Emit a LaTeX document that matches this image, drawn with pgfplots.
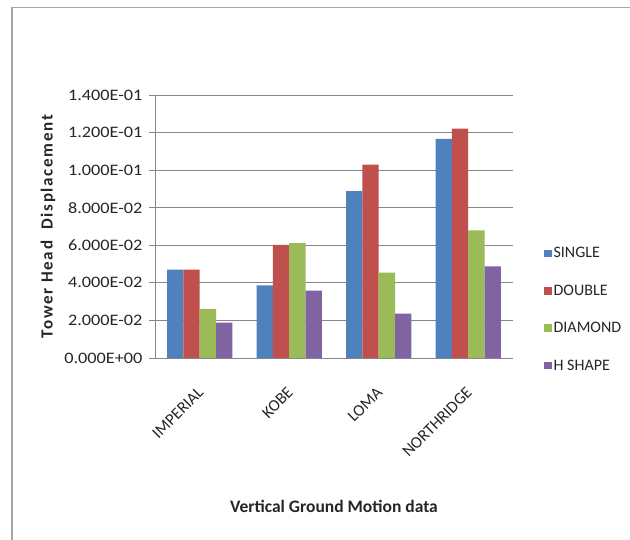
\documentclass[border=0pt]{standalone}
\usepackage{fontspec}
\setmainfont{Carlito}
\newfontfamily\tickfont[FakeStretch=1.14]{Carlito}
\usepackage{pgfplots}
\pgfplotsset{compat=1.18}
\definecolor{cSingle}{HTML}{4F81BD}
\definecolor{cDouble}{HTML}{C0504D}
\definecolor{cDiamond}{HTML}{9BBB59}
\definecolor{cH}{HTML}{8064A2}
\definecolor{gridgray}{HTML}{878787}
\definecolor{framegray}{HTML}{A6A6A6}
\definecolor{txt}{HTML}{262626}
\pgfplotsset{sqleg/.style={legend image code/.code={\fill[##1] (0pt,-3.8pt) rectangle (7.5pt,3.8pt);}}}
\begin{document}
\begin{tikzpicture}
\useasboundingbox (0,0) rectangle (630pt,539pt);
\fill[white] (0,0) rectangle (630pt,539pt);
\draw[framegray, line width=1.3pt] (12pt,-2pt) -- (12pt,531.5pt) -- (632pt,531.5pt);
\begin{axis}[
  at={(155pt,181pt)}, anchor=south west,
  width=358pt, height=263pt, scale only axis,
  ybar=0pt, bar width=16.3pt,
  xmin=-0.5, xmax=3.5, ymin=0, ymax=0.14,
  xtick={0,1,2,3},
  xticklabels={IMPERIAL,KOBE,LOMA,NORTHRIDGE},
  ytick={0,0.02,0.04,0.06,0.08,0.1,0.12,0.14},
  yticklabels={0.000E+00,2.000E-02,4.000E-02,6.000E-02,8.000E-02,1.000E-01,1.200E-01,1.400E-01},
  axis x line*=bottom, axis y line*=left,
  axis line style={gridgray, line width=0.8pt},
  ymajorgrids, grid style={gridgray, line width=0.8pt},
  major y tick style={gridgray, line width=0.8pt},
  major x tick style={draw=none},
  tick align=outside, major tick length=6pt,
  yticklabel style={font=\tickfont\fontsize{16}{18}\selectfont, text=txt, xshift=-3pt},
  xticklabel style={font=\fontsize{16.5}{18}\selectfont, text=txt, yshift=-22pt, xshift=-3pt, rotate=45, anchor=north east, inner sep=0pt},
  xlabel={\bfseries Vertical Ground Motion data},
  xlabel style={font=\fontsize{17.5}{19}\selectfont, text=txt, at={(0.5,0)}, anchor=center, yshift=-148pt},
  ylabel={\bfseries\addfontfeatures{LetterSpace=10}Tower Head\ \ Displacement},
  ylabel style={font=\fontsize{17}{19}\selectfont, text=txt, at={(-0.299,0.5)}, anchor=center},
  legend style={at={(1.078,0.436)}, anchor=north west, draw=none, fill=none,
    font=\fontsize{16}{18}\selectfont, text=txt, row sep=21.5pt,
    /tikz/every even column/.append style={column sep=2pt}},
  legend cell align=left,
  clip=false,
]
\addplot[fill=cSingle, draw=none, sqleg] coordinates {(0,0.0470) (1,0.0387) (2,0.0888) (3,0.1166)};
\addplot[fill=cDouble, draw=none, sqleg] coordinates {(0,0.0470) (1,0.0602) (2,0.1030) (3,0.1221)};
\addplot[fill=cDiamond, draw=none, sqleg] coordinates {(0,0.0262) (1,0.0612) (2,0.0455) (3,0.0680)};
\addplot[fill=cH, draw=none, sqleg] coordinates {(0,0.0188) (1,0.0359) (2,0.0236) (3,0.0488)};
\legend{SINGLE,DOUBLE,DIAMOND,H SHAPE}
\end{axis}
\end{tikzpicture}
\end{document}
